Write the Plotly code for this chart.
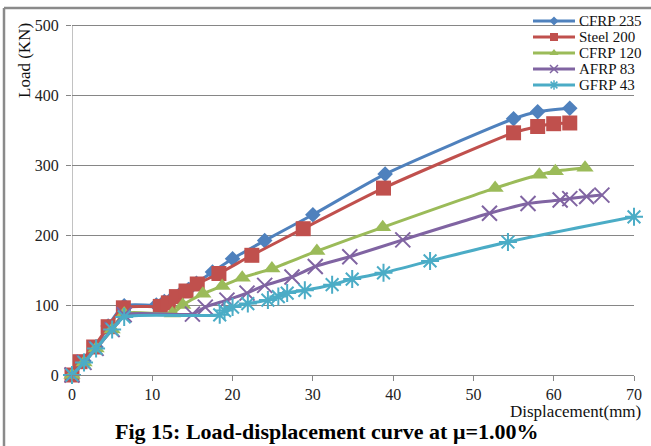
import plotly.graph_objects as go

names = ["CFRP 235", "Steel 200", "CFRP 120", "AFRP 83", "GFRP 43"]

cfrp235_x = [0, 1.5, 3, 4.5, 6.5, 10.5, 11.5, 12.5, 13.5, 14.5, 15.5, 17.5, 20, 24, 30, 39, 55, 58, 62]
cfrp235_y = [0, 20, 40, 70, 99, 100, 105, 110, 116, 122, 131, 147, 166, 192, 229, 287, 366, 376, 381]

steel200_x = [0, 1, 2.7, 4.5, 6.4, 11, 12, 13, 14.2, 15.6, 18.3, 22.4, 28.8, 38.8, 55, 58, 60, 62]
steel200_y = [0, 19, 40, 69, 96, 98, 103, 112, 120, 130, 145, 171, 209, 267, 346, 355, 359, 360]

cfrp120_x = [0, 1.5, 3, 5, 6.5, 12.5, 13.8, 16.3, 18.7, 21.2, 24.9, 30.5, 38.7, 52.7, 58.2, 60.2, 63.9]
cfrp120_y = [0, 18, 38, 65, 88, 88, 100, 116, 127, 139, 152, 177, 211, 267, 286, 291, 296]

afrp83_x = [0, 1.5, 3, 5, 6.5, 15, 16.6, 19.3, 21.8, 24, 27.4, 30.3, 34.6, 41.2, 52, 56.8, 60.8, 62, 64.1, 66]
afrp83_y = [0, 18, 38, 65, 86, 87, 97, 107, 117, 128, 140, 155, 169, 193, 231, 245, 250, 252, 255, 257]

gfrp43_x = [0, 1.5, 3, 5, 6.5, 18.4, 19, 20, 21.9, 24.4, 25.7, 26.8, 29, 32.4, 34.9, 38.8, 44.6, 54.3, 70]
gfrp43_y = [0, 18, 38, 65, 83, 86, 92, 97, 102, 107, 112, 117, 121, 129, 137, 146, 163, 190, 226]

x_ticks = [0, 10, 20, 30, 40, 50, 60, 70]
y_ticks = [0, 100, 200, 300, 400, 500]

colors = ["#4F81BD", "#C0504D", "#9BBB59", "#8064A2", "#4BACC6"]
symbols = ["diamond", "square", "triangle-up", "x-thin-open", "asterisk-open"]
sizes = [12, 15, 15, 15, 15]
legend_sizes = [7, 8, 8, 8, 8]

series = [(cfrp235_x, cfrp235_y), (steel200_x, steel200_y), (cfrp120_x, cfrp120_y),
          (afrp83_x, afrp83_y), (gfrp43_x, gfrp43_y)]

# layout geometry in pixels
W, H = 651, 446
PL, PR, PT, PB = 72, 634, 10, 375      # plot area (top extended so legend samples fit)
Y_MAX_PX = 25                          # pixel row of the top tick (500)
Y_MAX = y_ticks[-1]
Y_TOP = Y_MAX * (PB - PT) / (PB - Y_MAX_PX)

def px2paper_x(px):
    return (px - PL) / (PR - PL)
def px2paper_y(py):
    return (PB - py) / (PB - PT)

serif = "Liberation Serif, Times New Roman, serif"

fig = go.Figure()
for (xs, ys), name, c, sym, sz in zip(series, names, colors, symbols, sizes):
    open_sym = sym.endswith("open")
    fig.add_trace(go.Scatter(
        x=xs, y=ys, name=name, mode="lines+markers",
        line=dict(color=c, width=3, shape="spline", smoothing=0.6),
        marker=dict(symbol=sym, size=sz, color=c,
                    line=dict(color=c, width=2 if open_sym else 0)),
        cliponaxis=False, showlegend=False,
    ))

# hand-made legend: line segments as shapes, sample markers on an overlay axis
annotations = []
shapes = [
    dict(type="rect", xref="paper", yref="paper", layer="between",
         x0=px2paper_x(531), x1=px2paper_x(W), y0=px2paper_y(93), y1=px2paper_y(12),
         fillcolor="white", line=dict(width=0)),
    # y axis line, only up to the top tick
    dict(type="line", xref="x", yref="y", layer="below",
         x0=0, x1=0, y0=0, y1=Y_MAX, line=dict(color="#868686", width=1)),
]
leg_x0, leg_x1, leg_text = 533, 575, 577
leg_y0, leg_dy = 21, 16
leg_mid = (leg_x0 + leg_x1) / 2
for i, (name, c, sym, lsz) in enumerate(zip(names, colors, symbols, legend_sizes)):
    yy = px2paper_y(leg_y0 + i * leg_dy)
    open_sym = sym.endswith("open")
    shapes.append(dict(type="line", xref="paper", yref="paper", layer="between",
                       x0=px2paper_x(leg_x0), x1=px2paper_x(leg_x1), y0=yy, y1=yy,
                       line=dict(color=c, width=3)))
    fig.add_trace(go.Scatter(
        x=[px2paper_x(leg_mid)], y=[yy], mode="markers",
        xaxis="x2", yaxis="y2", showlegend=False, hoverinfo="skip",
        marker=dict(symbol=sym, size=lsz, color=c,
                    line=dict(color=c, width=1.5 if open_sym else 0)),
        cliponaxis=False,
    ))
    annotations.append(dict(text=name, xref="paper", yref="paper",
                            x=px2paper_x(leg_text), y=yy, xanchor="left", yanchor="middle",
                            showarrow=False, font=dict(family=serif, size=15, color="#111")))

annotations += [
    dict(text="Load (KN)", xref="paper", yref="paper", x=px2paper_x(25), y=px2paper_y(61),
         textangle=-90, showarrow=False, xanchor="center", yanchor="middle",
         font=dict(family=serif, size=17, color="#111")),
    dict(text="Displacement(mm)", xref="paper", yref="paper", x=px2paper_x(643), y=px2paper_y(411),
         showarrow=False, xanchor="right", yanchor="middle",
         font=dict(family=serif, size=17, color="#111")),
    dict(text="<b>Fig 15: Load-displacement curve at μ=1.00%</b>", xref="paper", yref="paper",
         x=px2paper_x(326), y=px2paper_y(432), showarrow=False, xanchor="center", yanchor="middle",
         font=dict(family=serif, size=22, color="#000")),
]

shapes += [
    dict(type="line", xref="paper", yref="paper", x0=px2paper_x(4), x1=px2paper_x(W + 5),
         y0=px2paper_y(8), y1=px2paper_y(8), line=dict(color="#8a8a8a", width=2.5)),
    dict(type="line", xref="paper", yref="paper", x0=px2paper_x(4), x1=px2paper_x(4),
         y0=px2paper_y(8), y1=px2paper_y(H + 5), line=dict(color="#8a8a8a", width=2.5)),
]

fig.update_layout(
    width=W, height=H,
    margin=dict(l=PL, r=W - PR, t=PT, b=H - PB, autoexpand=False),
    paper_bgcolor="white", plot_bgcolor="white",
    font=dict(family=serif, size=16, color="#222"),
    showlegend=False,
    xaxis=dict(range=[0, 70], tickvals=x_ticks, showgrid=False, zeroline=False,
               showline=True, linecolor="#868686", linewidth=1,
               ticks="outside", ticklen=5, tickcolor="#868686",
               tickfont=dict(family=serif, size=16, color="#222")),
    yaxis=dict(range=[0, Y_TOP], tickvals=y_ticks, showgrid=True, gridcolor="#868686",
               gridwidth=1, zeroline=False, showline=False,
               ticks="outside", ticklen=5, tickcolor="#868686", ticklabelstandoff=4,
               tickfont=dict(family=serif, size=16, color="#222")),
    xaxis2=dict(overlaying="x", range=[0, 1], visible=False, fixedrange=True),
    yaxis2=dict(overlaying="y", range=[0, 1], visible=False, fixedrange=True),
    annotations=annotations,
    shapes=shapes,
)

fig.write_html("out.html")
